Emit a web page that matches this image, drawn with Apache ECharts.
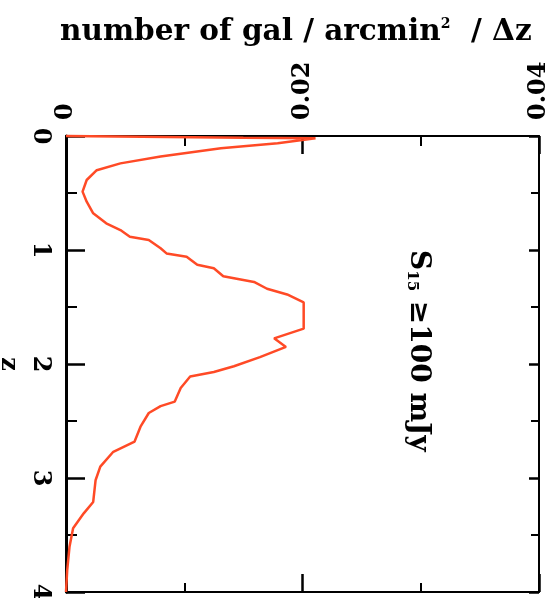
<!DOCTYPE html>
<html>
<head>
<meta charset="utf-8">
<script src="https://cdn.jsdelivr.net/npm/echarts@6/dist/echarts.min.js"></script>
<style>
  html, body { margin: 0; padding: 0; background: #fff; }
  #chart { width: 559px; height: 598px; }
</style>
</head>
<body>
<div id="chart"></div>
<script>
// Redshift distribution of sources, drawn with z running down the page
var redshift = [0.00, 0.015, 0.02, 0.064, 0.108, 0.18, 0.24, 0.30, 0.386, 0.488, 0.576, 0.678, 0.766,
  0.825, 0.883, 0.912, 0.985, 1.03, 1.06, 1.13, 1.16, 1.23, 1.28, 1.34, 1.39, 1.46, 1.69, 1.775,
  1.85, 1.94, 2.02, 2.07, 2.11, 2.21, 2.33, 2.37, 2.43, 2.55, 2.68, 2.77, 2.90, 3.02, 3.21, 3.31,
  3.44, 3.60, 3.81, 4.00];
var density = [0.0000, 0.0150, 0.0211, 0.0179, 0.0131, 0.0080, 0.0046, 0.0026, 0.00175, 0.0014, 0.00175,
  0.0023, 0.0034, 0.0046, 0.0054, 0.0070, 0.0080, 0.0085, 0.0102, 0.0111, 0.0125, 0.0133, 0.0159,
  0.0170, 0.0187, 0.0201, 0.0201, 0.0176, 0.0186, 0.0164, 0.0142, 0.0125, 0.0105, 0.0097, 0.0092,
  0.0080, 0.0070, 0.0063, 0.0058, 0.0040, 0.0029, 0.0025, 0.0023, 0.0015, 0.0006, 0.0003, 0.0001,
  0.0000];
var densityTicks = [0, 0.02, 0.04];
var zTicks = [0, 1, 2, 3, 4];

var points = redshift.map(function (z, i) { return [density[i], z]; });

var FONT = 'DejaVu Serif';
var INK = '#000';

function fmtDensity(v) {
  for (var i = 0; i < densityTicks.length; i++) {
    if (Math.abs(v - densityTicks[i]) < 1e-9) return v === 0 ? '0' : v.toFixed(2);
  }
  return '';
}
function fmtZ(v) {
  var r = Math.round(v);
  return zTicks.indexOf(r) >= 0 && Math.abs(v - r) < 1e-9 ? String(r) : '';
}

var chart = echarts.init(document.getElementById('chart'), null, { renderer: 'canvas' });

// Frame side: long inward major ticks plus one short minor tick between them
function axis(kind, pos, majorLen, minorLen, lineWidth, extra) {
  var isX = kind === 'x';
  var base = {
    type: 'value',
    position: pos,
    min: 0,
    max: isX ? 0.04 : 4,
    interval: isX ? 0.02 : 1,
    inverse: !isX,
    splitLine: { show: false },
    axisTick: { show: true, inside: true, length: majorLen, lineStyle: { color: INK, width: 2.5 } },
    minorTick: { show: true, splitNumber: 2, length: minorLen, lineStyle: { color: INK, width: 2 } },
    axisLine: { show: true, onZero: false, lineStyle: { color: INK, width: lineWidth } },
    axisLabel: { show: false }
  };
  return Object.assign(base, extra || {});
}

var labelStyle = { fontFamily: FONT, fontWeight: 'bold', fontSize: 24, color: INK };

chart.setOption({
  animation: false,
  backgroundColor: '#fff',
  title: {
    text: 'number of gal / arcmin{sup|2}  / Δz',
    left: 55,
    top: 12,
    textStyle: {
      fontFamily: FONT, fontWeight: 'bold', fontSize: 29.5, color: INK,
      rich: { sup: { fontFamily: FONT, fontWeight: 'bold', fontSize: 14, verticalAlign: 'top', padding: [0, 0, 14, 0] } }
    }
  },
  grid: { left: 66, right: 20, top: 136, bottom: 6, containLabel: false, outerBoundsMode: 'none' },
  xAxis: [
    axis('x', 'top', 18, 10, 2, {
      axisLabel: Object.assign({ show: true, rotate: -90, margin: 16, formatter: fmtDensity }, labelStyle)
    }),
    axis('x', 'bottom', 18, 9, 2)
  ],
  yAxis: [
    axis('y', 'left', 19, 11, 3, {
      name: 'z', nameLocation: 'middle', nameGap: 44, nameRotate: -90,
      nameTextStyle: labelStyle,
      axisLabel: Object.assign({ show: true, rotate: -90, margin: 14, formatter: fmtZ }, labelStyle)
    }),
    axis('y', 'right', 10, 8, 2)
  ],
  graphic: [{
    type: 'text',
    left: 404,
    top: 250,
    rotation: -Math.PI / 2,
    style: {
      text: 'S{sub|15} ≥100 mJy',
      fontFamily: FONT, fontWeight: 'bold', fontSize: 28, fill: INK,
      rich: { sub: { fontFamily: FONT, fontWeight: 'bold', fontSize: 15, padding: [14, 0, 0, 0] } }
    }
  }],
  series: [{
    type: 'line',
    xAxisIndex: 0,
    yAxisIndex: 0,
    data: points,
    showSymbol: false,
    clip: false,
    lineStyle: { color: '#ff4a26', width: 2.5 }
  }]
});
</script>
</body>
</html>
